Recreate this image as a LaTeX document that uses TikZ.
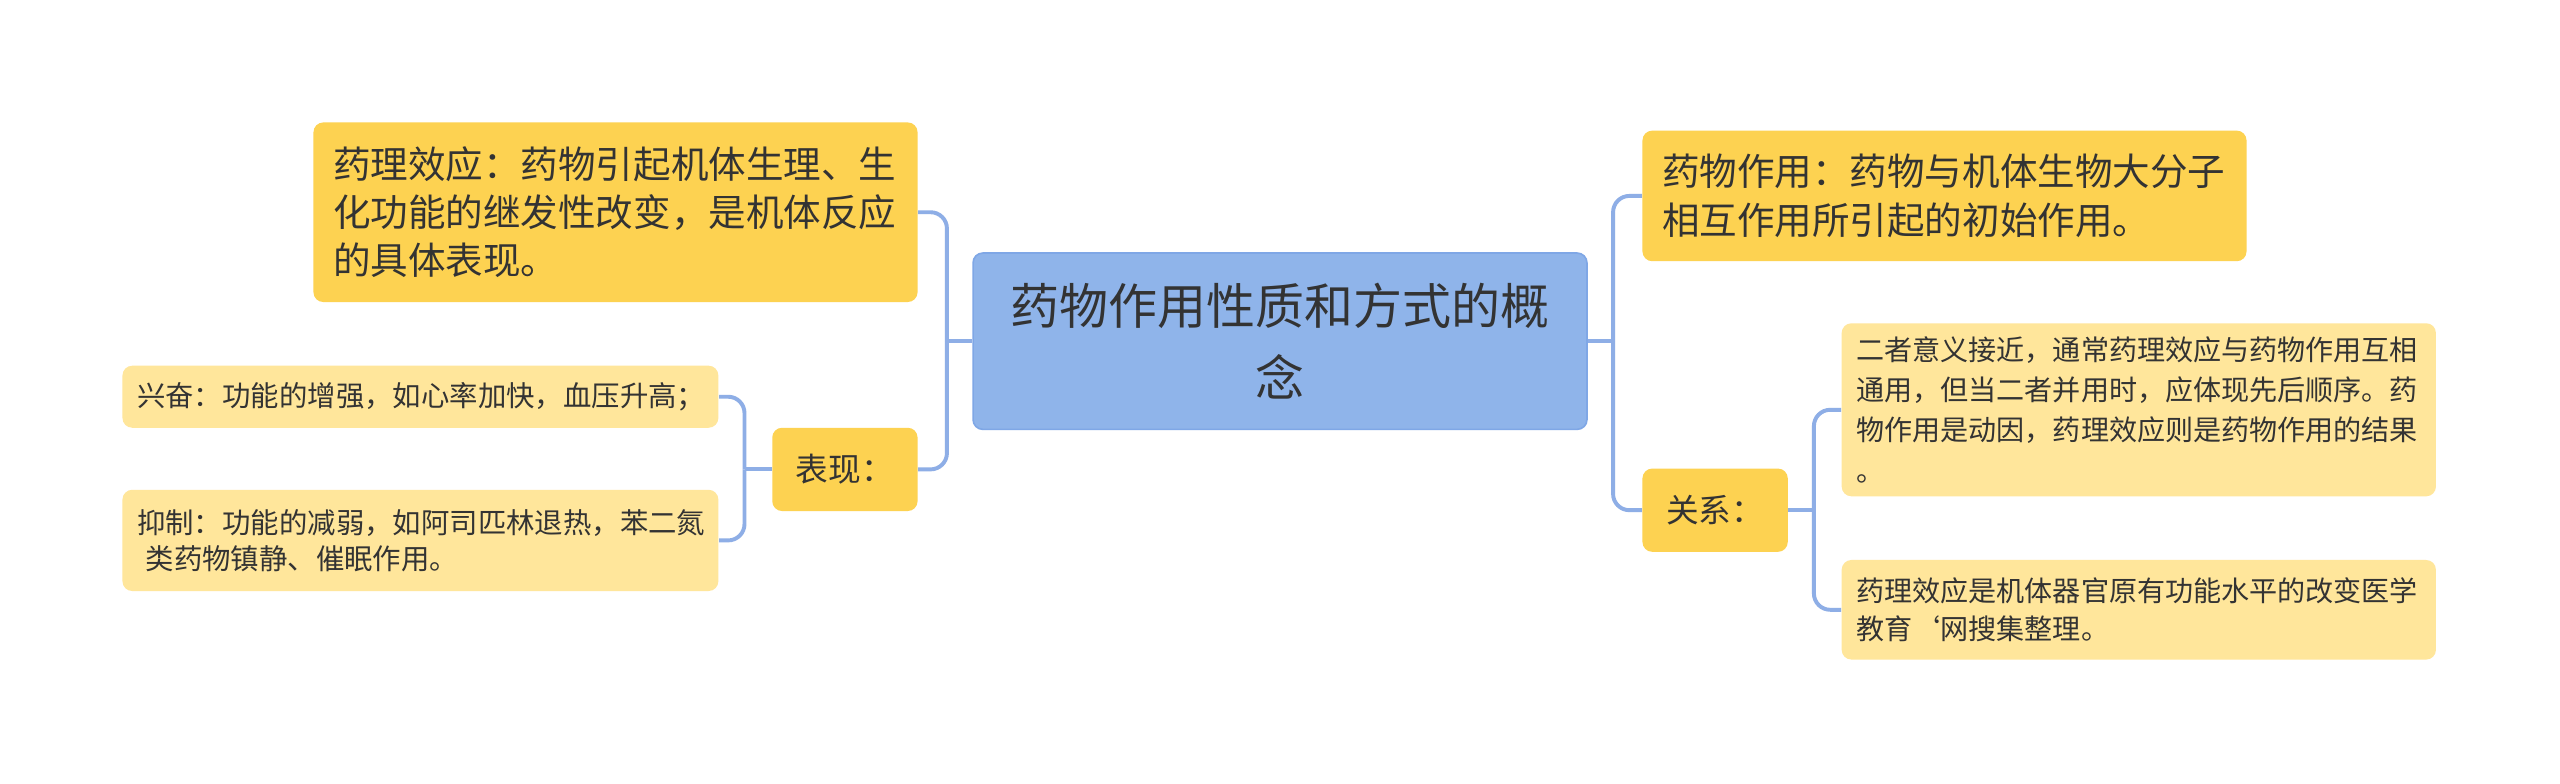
\documentclass[tikz,border=0pt]{standalone}
\usepackage{fontspec}
\setmainfont{Noto Sans CJK SC}
\definecolor{rootblue}{HTML}{8FB4EA}
\definecolor{rootline}{HTML}{7FA7E6}
\definecolor{darkyellow}{HTML}{FDD251}
\definecolor{lightyellow}{HTML}{FFE69B}
\definecolor{linkblue}{HTML}{8EAEE6}
\definecolor{ink}{HTML}{333333}
\begin{document}
\begin{tikzpicture}[x=0.5pt,y=-0.5pt,
  box/.style={rounded corners=3pt, text=ink, inner xsep=0pt, inner ysep=0pt},
  link/.style={draw=linkblue, line width=1.2pt, rounded corners=5pt}]
\useasboundingbox[fill=white] (0,0) rectangle (1568,480);
\node[box, fill=rootblue, draw=rootline, line width=0.5pt, minimum width=188pt, minimum height=54pt, align=center,
  font=\fontsize{15pt}{22pt}\selectfont] (r) at (784,209) {药物作用性质和方式的概\\念};
\node[box, fill=darkyellow, minimum width=185pt, minimum height=55pt, text width=173pt, align=left,
  font=\fontsize{11.5pt}{14.8pt}\selectfont] (a) at (377,130) {药理效应：药物引起机体生理、生\\化功能的继发性改变，是机体反应\\的具体表现。};
\node[box, fill=darkyellow, minimum width=44.5pt, minimum height=25.5pt, align=center,
  font=\fontsize{10pt}{12pt}\selectfont] (b) at (517.5,287.5) {表现：};
\node[box, fill=lightyellow, minimum width=182.5pt, minimum height=19pt, text width=173.5pt, align=left,
  font=\fontsize{8.7pt}{11pt}\selectfont] (c) at (257.5,243) {兴奋：功能的增强，如心率加快，血压升高；};
\node[box, fill=lightyellow, minimum width=182.5pt, minimum height=31pt, text width=173.5pt, align=left,
  font=\fontsize{8.7pt}{11pt}\selectfont] (d) at (257.5,331) {抑制：功能的减弱，如阿司匹林退热，苯二氮\\\hspace{0.3em}类药物镇静、催眠作用。};
\node[box, fill=darkyellow, minimum width=185pt, minimum height=40pt, text width=173pt, align=left,
  font=\fontsize{11.5pt}{15pt}\selectfont] (e) at (1191,120) {药物作用：药物与机体生物大分子\\相互作用所引起的初始作用。};
\node[box, fill=darkyellow, minimum width=44.5pt, minimum height=25.5pt, align=center,
  font=\fontsize{10pt}{12pt}\selectfont] (f) at (1050.5,312.5) {关系：};
\node[box, fill=lightyellow, minimum width=182pt, minimum height=53pt, text width=173pt, align=left,
  font=\fontsize{8.6pt}{12.3pt}\selectfont] (g) at (1310,251) {二者意义接近，通常药理效应与药物作用互相\\通用，但当二者并用时，应体现先后顺序。药\\物作用是动因，药理效应则是药物作用的结果\\。};
\node[box, fill=lightyellow, minimum width=182pt, minimum height=30.5pt, text width=173pt, align=left,
  font=\fontsize{8.6pt}{11.5pt}\selectfont] (h) at (1310,373.5) {药理效应是机体器官原有功能水平的改变医学\\教育\symbol{96}网搜集整理。};
\coordinate (j1) at (580,209);
\coordinate (j2) at (456,287.5);
\coordinate (j3) at (988,209);
\coordinate (j4) at (1111,312.5);
\draw[link] (r.west) -- (j1);
\draw[link] (j1) |- (a.east);
\draw[link] (j1) |- (b.east);
\draw[link] (b.west) -- (j2);
\draw[link] (j2) |- (c.east);
\draw[link] (j2) |- (d.east);
\draw[link] (r.east) -- (j3);
\draw[link] (j3) |- (e.west);
\draw[link] (j3) |- (f.west);
\draw[link] (f.east) -- (j4);
\draw[link] (j4) |- (g.west);
\draw[link] (j4) |- (h.west);
\end{tikzpicture}
\end{document}
